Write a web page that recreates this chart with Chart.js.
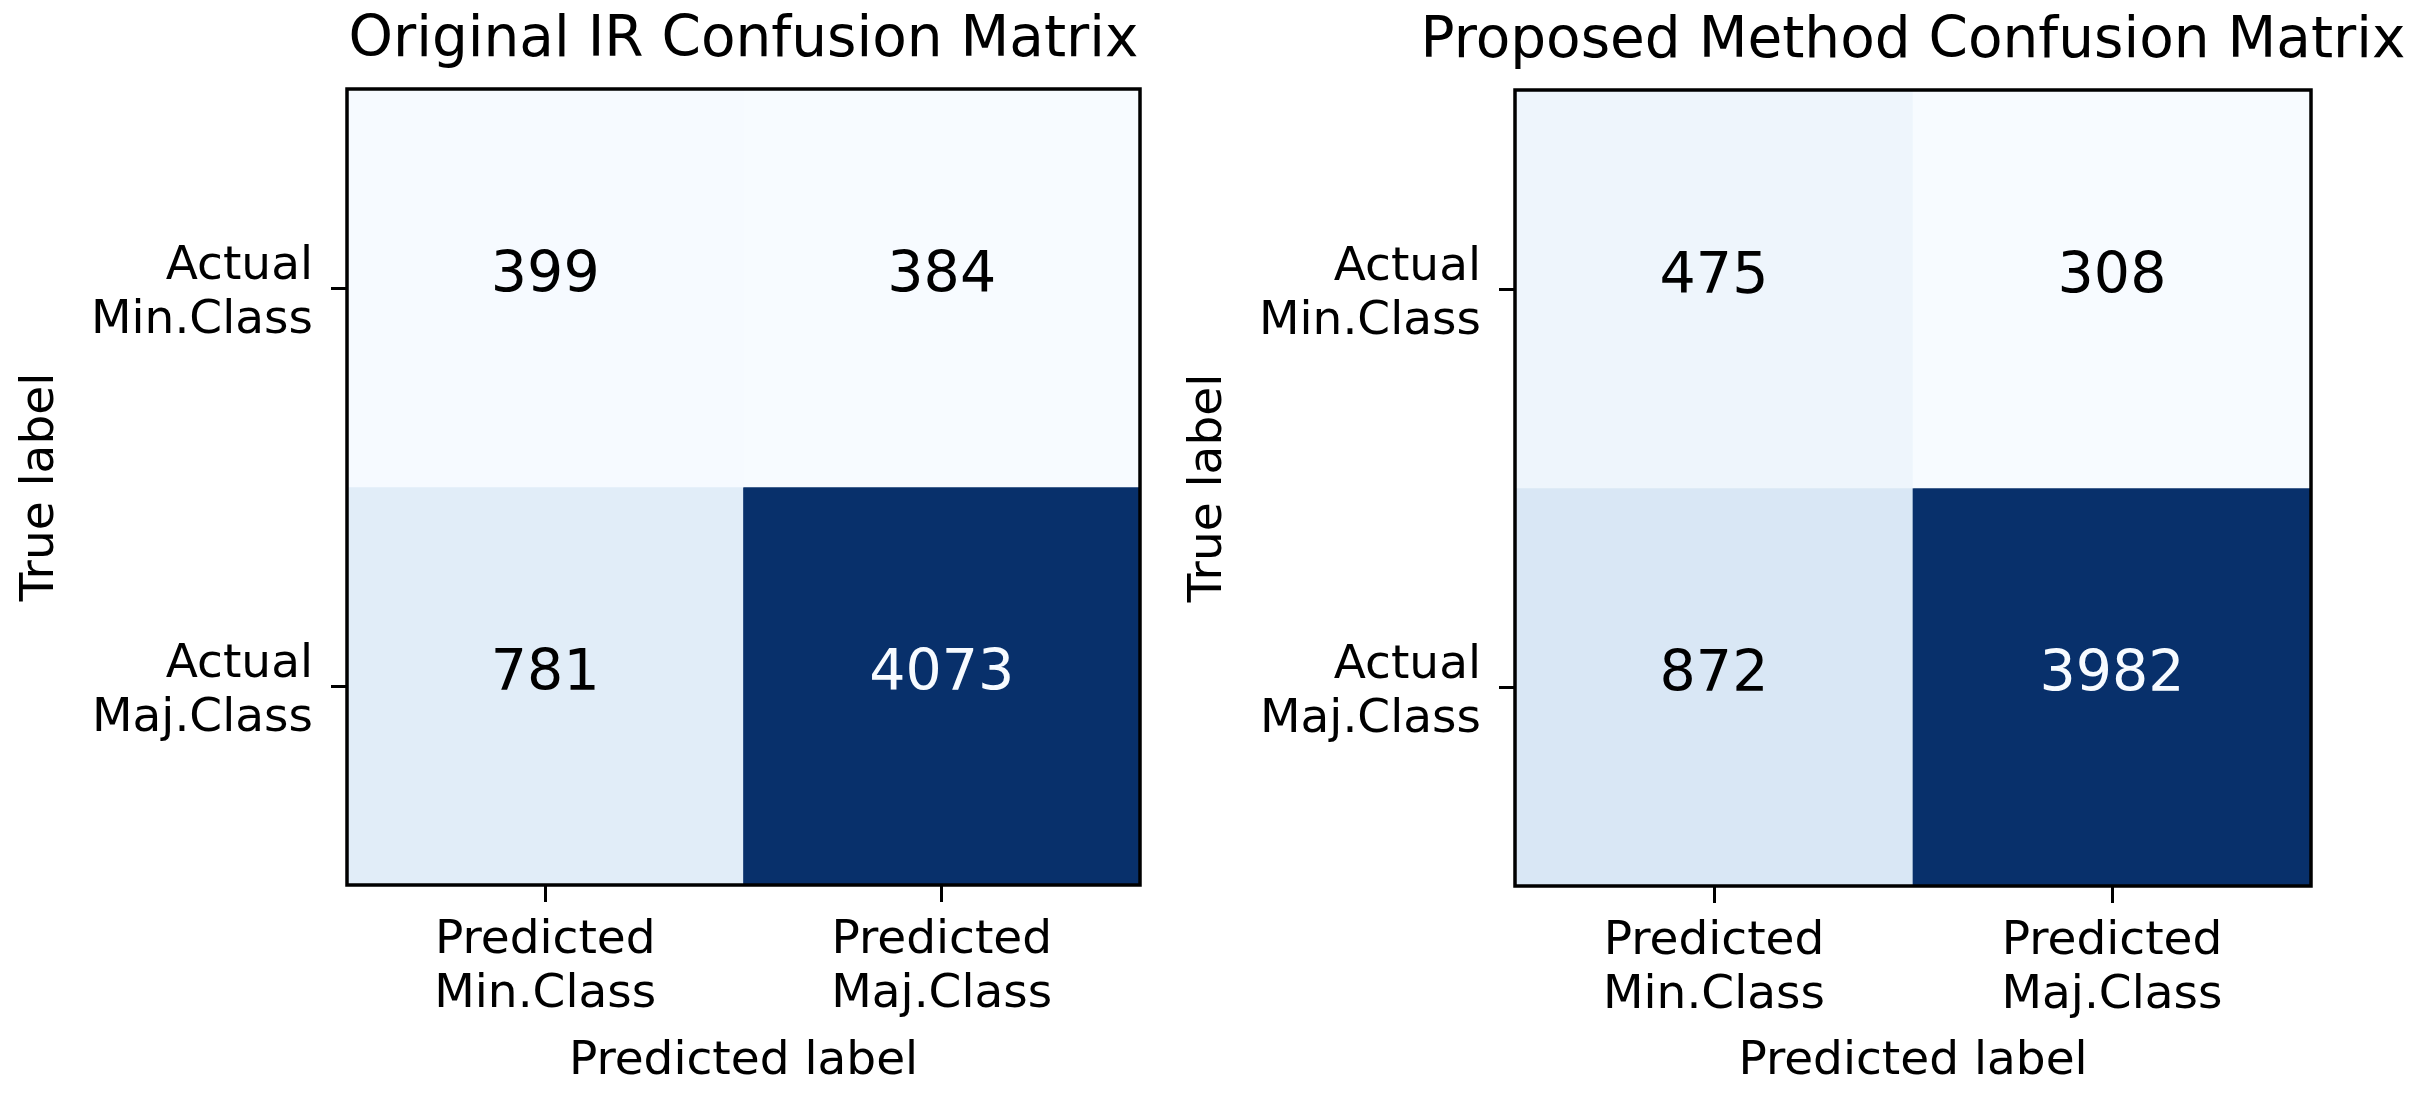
<!DOCTYPE html>
<html>
<head>
<meta charset="utf-8">
<title>Confusion matrices</title>
<script src="https://cdn.jsdelivr.net/npm/chart.js@4.4.0/dist/chart.umd.min.js"></script>
<style>
    html, body { margin: 0; padding: 0; background: #fff; }
    body { width: 2414px; height: 1095px; position: relative; overflow: hidden; }
    .panel { position: absolute; top: 0; height: 1095px; }
</style>
</head>
<body>
<div class="panel" style="left:0;width:1160px"><canvas id="cmLeft"></canvas></div>
<div class="panel" style="left:1168px;width:1490px"><canvas id="cmRight"></canvas></div>
<script>
// Axis labels
const predLabels = [['Predicted', 'Min.Class'], ['Predicted', 'Maj.Class']];
const trueLabels = [['Actual', 'Min.Class'], ['Actual', 'Maj.Class']];

// Confusion matrix counts (rows = true label, cols = predicted label)
const originalIR = [[399, 384], [781, 4073]];
const proposed = [[475, 308], [872, 3982]];

// matplotlib "Blues" colormap stops
const bluesStops = ['#f7fbff', '#deebf7', '#c6dbef', '#9ecae1', '#6baed6', '#4292c6', '#2171b5', '#08519c', '#08306b'];

function hexToRgb(h) {
    const n = parseInt(h.slice(1), 16);
    return [(n >> 16) & 255, (n >> 8) & 255, n & 255];
}

function blues(t) {
    t = Math.min(1, Math.max(0, t));
    const pos = t * (bluesStops.length - 1);
    const i = Math.min(Math.floor(pos), bluesStops.length - 2);
    const f = pos - i;
    const a = hexToRgb(bluesStops[i]);
    const b = hexToRgb(bluesStops[i + 1]);
    const c = a.map((v, k) => Math.round(v + (b[k] - v) * f));
    return `rgb(${c[0]},${c[1]},${c[2]})`;
}

Chart.defaults.font.family = '"DejaVu Sans", sans-serif';
Chart.defaults.color = '#000';

// Box round the plot area
const framePlugin = {
    id: 'frame',
    afterDraw(chart) {
        const { ctx, chartArea: a } = chart;
        ctx.save();
        ctx.strokeStyle = '#000';
        ctx.lineWidth = 3.5;
        ctx.strokeRect(a.left, a.top, a.right - a.left, a.bottom - a.top);
        ctx.restore();
    }
};

// Cell counts written in each cell
function annotatePlugin(cm) {
    const flat = cm.flat();
    const thresh = (Math.min(...flat) + Math.max(...flat)) / 2;
    return {
        id: 'annotate',
        afterDatasetsDraw(chart) {
            const { ctx, scales } = chart;
            ctx.save();
            ctx.font = '57px "DejaVu Sans"';
            ctx.textAlign = 'center';
            ctx.textBaseline = 'alphabetic';
            cm.forEach((row, r) => {
                row.forEach((v, c) => {
                    ctx.fillStyle = v < thresh ? '#000' : bluesStops[0];
                    ctx.fillText(String(v), scales.x.getPixelForValue(c), scales.y.getPixelForValue(r) + 4);
                });
            });
            ctx.restore();
        }
    };
}

// spare: width of an empty right-hand box, so a wide title is not squeezed into the plot width
function makeMatrix(id, title, cm, padTop, padRight, spare) {
    const flat = cm.flat();
    const lo = Math.min(...flat);
    const hi = Math.max(...flat);

    const datasets = cm.map((row, r) => ({
        data: row.map(() => [r - 0.5, r + 0.5]),
        backgroundColor: row.map(v => blues((v - lo) / (hi - lo))),
        borderWidth: 0,
        barPercentage: 1,
        categoryPercentage: 1,
        grouped: false
    }));

    const scales = {
        x: {
            type: 'category',
            offset: true,
            afterFit: s => { s.height = 210 - padTop; },
            grid: { offset: false, drawOnChartArea: false, drawTicks: true, tickLength: 17, color: '#000', lineWidth: 3 },
            border: { display: false },
            ticks: { color: '#000', font: { size: 47, lineHeight: 1.15 }, padding: 12, maxRotation: 0, autoSkip: false },
            title: { display: true, text: 'Predicted label', color: '#000', font: { size: 47, lineHeight: 1.2 }, padding: { top: 0, bottom: 5 } }
        },
        y: {
            type: 'linear',
            min: -0.5,
            max: 1.5,
            reverse: true,
            afterBuildTicks: s => { s.ticks = trueLabels.map((_, i) => ({ value: i })); },
            afterFit: s => { s.width = 347; },
            grid: { drawOnChartArea: false, drawTicks: true, tickLength: 16, color: '#000', lineWidth: 3 },
            border: { display: false },
            ticks: { color: '#000', font: { size: 47, lineHeight: 1.15 }, padding: 18, labelOffset: 6, callback: v => trueLabels[v] },
            title: { display: true, text: 'True label', color: '#000', font: { size: 47, lineHeight: 1.2 }, padding: { top: 13, bottom: 0 } }
        }
    };
    if (spare) {
        scales.spare = {
            type: 'linear',
            position: 'right',
            afterFit: s => { s.width = spare; },
            ticks: { display: false },
            grid: { display: false },
            border: { display: false }
        };
    }

    return new Chart(document.getElementById(id), {
        type: 'bar',
        data: { labels: predLabels, datasets: datasets },
        options: {
            responsive: true,
            maintainAspectRatio: false,
            animation: false,
            events: [],
            layout: { padding: { top: padTop, right: padRight, left: 0, bottom: 0 } },
            plugins: {
                legend: { display: false },
                tooltip: { enabled: false },
                title: {
                    display: true,
                    text: title,
                    fullSize: !!spare,
                    color: '#000',
                    font: { size: 56.5, weight: 'normal', lineHeight: 1.2 },
                    padding: { top: 7.5, bottom: 13.7 }
                }
            },
            scales: scales
        },
        plugins: [framePlugin, annotatePlugin(cm)]
    });
}

makeMatrix('cmLeft', 'Original IR Confusion Matrix', originalIR, 0, 20, 0);
makeMatrix('cmRight', 'Proposed Method Confusion Matrix', proposed, 1, 0, 347);
</script>
</body>
</html>
